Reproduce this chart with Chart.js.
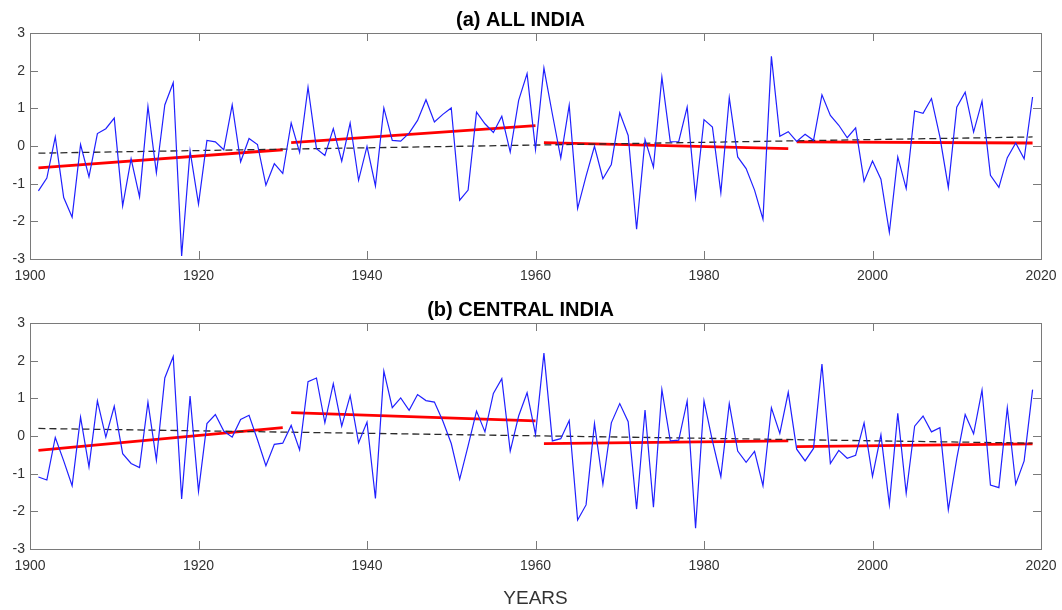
<!DOCTYPE html>
<html>
<head>
<meta charset="utf-8">
<script src="https://cdn.jsdelivr.net/npm/chart.js@4.4.1/dist/chart.umd.min.js"></script>
<style>
  html, body { margin: 0; padding: 0; background: #fff; }
  #wrap { position: relative; width: 1062px; height: 610px; background: #fff; }
  canvas { position: absolute; left: 0; }
</style>
</head>
<body>
<div id="wrap">
  <canvas id="chartA" width="1062" height="285" style="top:0px"></canvas>
  <canvas id="chartB" width="1062" height="320" style="top:290px"></canvas>
</div>
<script>
// years 1901..2019
const years = Array.from({ length: 119 }, (_, i) => 1901 + i);

const xTicks = [1900, 1920, 1940, 1960, 1980, 2000, 2020];
const yTicks = [-3, -2, -1, 0, 1, 2, 3];

const allIndia = [
  -1.19, -0.85, 0.24, -1.37, -1.89, 0.04, -0.82, 0.33, 0.46, 0.74,
  -1.59, -0.34, -1.35, 1.05, -0.71, 1.09, 1.68, -2.92, -0.13, -1.54,
  0.15, 0.11, -0.10, 1.09, -0.42, 0.20, 0.04, -1.04, -0.47, -0.73,
  0.61, -0.17, 1.56, -0.07, -0.25, 0.46, -0.40, 0.61, -0.91, -0.01,
  -1.06, 1.01, 0.15, 0.13, 0.34, 0.68, 1.23, 0.64, 0.84, 1.01,
  -1.44, -1.17, 0.90, 0.59, 0.36, 0.79, -0.16, 1.21, 1.92, -0.09,
  2.07, 0.85, -0.32, 1.08, -1.66, -0.80, -0.01, -0.87, -0.49, 0.88,
  0.28, -2.21, 0.17, -0.56, 1.83, 0.11, 0.12, 1.03, -1.35, 0.70,
  0.50, -1.24, 1.28, -0.29, -0.60, -1.17, -1.94, 2.38, 0.26, 0.38,
  0.12, 0.31, 0.15, 1.36, 0.81, 0.55, 0.22, 0.48, -0.94, -0.40,
  -0.88, -2.29, -0.29, -1.13, 0.93, 0.87, 1.26, 0.24, -1.10, 1.03,
  1.43, 0.37, 1.19, -0.78, -1.10, -0.31, 0.08, -0.34, 1.30
];

const centralIndia = [
  -1.09, -1.17, -0.04, -0.66, -1.32, 0.50, -0.82, 0.93, -0.03, 0.79,
  -0.47, -0.73, -0.84, 0.90, -0.64, 1.54, 2.11, -1.67, 1.06, -1.47,
  0.33, 0.57, 0.13, -0.03, 0.44, 0.55, -0.10, -0.79, -0.22, -0.19,
  0.28, -0.37, 1.44, 1.54, 0.35, 1.39, 0.26, 1.07, -0.18, 0.37,
  -1.66, 1.72, 0.75, 1.01, 0.68, 1.10, 0.94, 0.90, 0.40, -0.20,
  -1.15, -0.26, 0.66, 0.11, 1.13, 1.52, -0.40, 0.53, 1.15, 0.04,
  2.20, -0.13, -0.07, 0.41, -2.23, -1.83, 0.33, -1.28, 0.35, 0.86,
  0.38, -1.94, 0.69, -1.89, 1.23, -0.13, -0.11, 0.93, -2.45, 0.93,
  -0.13, -1.08, 0.86, -0.40, -0.70, -0.41, -1.32, 0.75, 0.07, 1.16,
  -0.35, -0.66, -0.33, 1.91, -0.73, -0.38, -0.59, -0.51, 0.35, -1.07,
  0.03, -1.82, 0.60, -1.52, 0.26, 0.53, 0.11, 0.22, -1.96, -0.60,
  0.57, 0.06, 1.22, -1.30, -1.37, 0.75, -1.28, -0.66, 1.23
];

// 30-year trend segments: [startYear, startValue, endYear, endValue]
const allIndiaTrends = [
  [1901, -0.58, 1930, -0.10],
  [1931, 0.09, 1960, 0.54],
  [1961, 0.09, 1990, -0.07],
  [1991, 0.11, 2019, 0.08]
];
const allIndiaLongTrend = [1901, -0.19, 2019, 0.24];

const centralTrends = [
  [1901, -0.38, 1930, 0.22],
  [1931, 0.62, 1960, 0.40],
  [1961, -0.20, 1990, -0.13],
  [1991, -0.28, 2019, -0.21]
];
const centralLongTrend = [1901, 0.20, 2019, -0.19];

const FONT = '"Liberation Sans", Arial, Helvetica, sans-serif';

// MATLAB style box with inward ticks
const boxPlugin = {
  id: 'box',
  afterDraw(chart) {
    const { ctx, chartArea: a, scales: { x, y } } = chart;
    ctx.save();
    ctx.strokeStyle = '#7a7a7a';
    ctx.lineWidth = 1;
    ctx.strokeRect(Math.round(a.left) + 0.5, Math.round(a.top) + 0.5,
      Math.round(a.right - a.left), Math.round(a.bottom - a.top));
    ctx.beginPath();
    xTicks.forEach(v => {
      const px = Math.round(x.getPixelForValue(v)) + 0.5;
      ctx.moveTo(px, a.top); ctx.lineTo(px, a.top + 8);
      ctx.moveTo(px, a.bottom); ctx.lineTo(px, a.bottom - 8);
    });
    yTicks.forEach(v => {
      const py = Math.round(y.getPixelForValue(v)) + 0.5;
      ctx.moveTo(a.left, py); ctx.lineTo(a.left + 8, py);
      ctx.moveTo(a.right, py); ctx.lineTo(a.right - 8, py);
    });
    ctx.stroke();
    ctx.restore();
  }
};

function makeChart(id, title, values, trends, longTrend, xTitle, xHeight) {
  const datasets = [{
    data: years.map((yr, i) => ({ x: yr, y: values[i] })),
    borderColor: '#2020ff',
    borderWidth: 1.2,
    pointRadius: 0,
    tension: 0
  }];
  datasets.push({
    data: [{ x: longTrend[0], y: longTrend[1] }, { x: longTrend[2], y: longTrend[3] }],
    borderColor: '#2a2a2a',
    borderWidth: 1.3,
    borderDash: [7, 4],
    pointRadius: 0
  });
  trends.forEach(t => {
    datasets.push({
      data: [{ x: t[0], y: t[1] }, { x: t[2], y: t[3] }],
      borderColor: '#ff0000',
      borderWidth: 2.8,
      pointRadius: 0
    });
  });

  return new Chart(document.getElementById(id), {
    type: 'line',
    data: { datasets },
    plugins: [boxPlugin],
    options: {
      responsive: false,
      animation: false,
      layout: { padding: { left: 0, right: 21, top: 0, bottom: 0 } },
      plugins: {
        legend: { display: false },
        tooltip: { enabled: false },
        title: {
          display: true,
          text: title,
          color: '#000',
          font: { family: FONT, size: 20, weight: 'bold', lineHeight: 1.2 },
          padding: { top: 8, bottom: 1 }
        }
      },
      scales: {
        x: {
          type: 'linear',
          min: 1900,
          max: 2020,
          afterBuildTicks: s => { s.ticks = xTicks.map(v => ({ value: v })); },
          afterFit: s => { s.height = xHeight; s.paddingLeft = 0; s.paddingRight = 0; },
          grid: { display: false, drawTicks: false },
          border: { display: false },
          ticks: {
            color: '#333',
            padding: 9,
            maxRotation: 0,
            font: { family: FONT, size: 14 },
            callback: v => String(v)
          },
          title: {
            display: xTitle,
            text: 'YEARS',
            color: '#333',
            font: { family: FONT, size: 19 },
            padding: { top: 0, bottom: 0 }
          }
        },
        y: {
          min: -3,
          max: 3,
          afterBuildTicks: s => { s.ticks = yTicks.map(v => ({ value: v })); },
          afterFit: s => { s.width = 30; s.paddingTop = 0; s.paddingBottom = 0; },
          grid: { display: false, drawTicks: false },
          border: { display: false },
          ticks: {
            color: '#333',
            padding: 5,
            font: { family: FONT, size: 14 }
          }
        }
      }
    }
  });
}

makeChart('chartA', '(a) ALL INDIA', allIndia, allIndiaTrends, allIndiaLongTrend, false, 26);
makeChart('chartB', '(b) CENTRAL INDIA', centralIndia, centralTrends, centralLongTrend, true, 61);
</script>
</body>
</html>
